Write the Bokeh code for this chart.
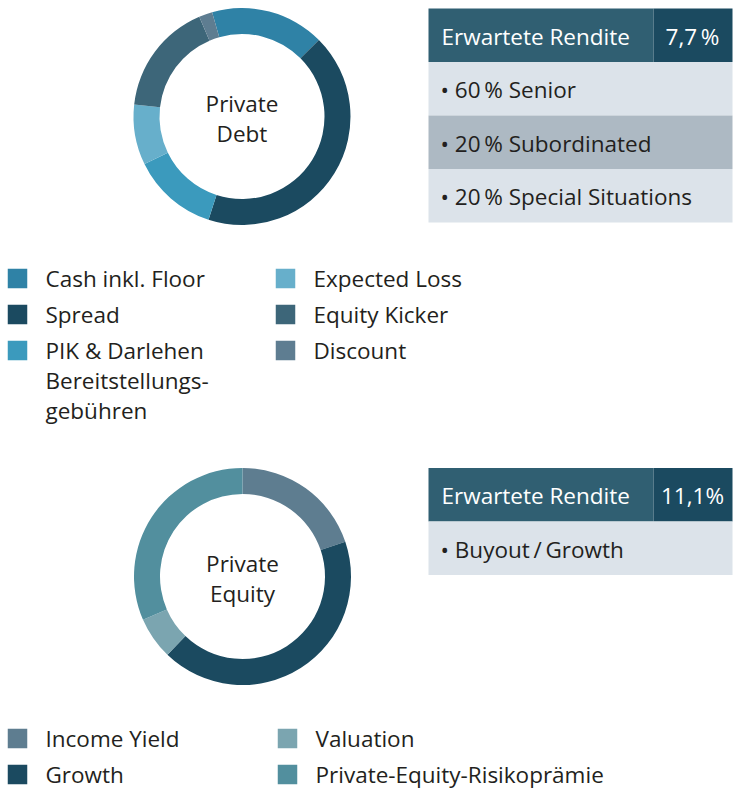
from bokeh.plotting import figure
from bokeh.models import Range1d
from bokeh.core.properties import value
from bokeh.embed import file_html
from bokeh.resources import INLINE
import numpy as np

# ---------------- data ----------------
debt_labels = ["Cash inkl. Floor", "Spread", "PIK & Darlehen\nBereitstellungs-\ngebühren",
               "Expected Loss", "Equity Kicker", "Discount"]
debt_shares = [17.0, 42.5, 12.8, 9.0, 16.8, 2.0]
debt_colors = ["#2f82a6", "#1b4a60", "#3b9abd", "#67afcb", "#3d6679", "#5e7d91"]

equity_labels = ["Income Yield", "Growth", "Valuation", "Private-Equity-Risikoprämie"]
equity_shares = [2.2, 4.7, 0.7, 3.5]
equity_colors = ["#5e7d90", "#1b4a60", "#7ba5b0", "#528f9e"]

debt_title = "Erwartete Rendite"
debt_return = "7,7\u2009%"
debt_rows = ["\u2022 60\u2009% Senior", "\u2022 20\u2009% Subordinated", "\u2022 20\u2009% Special Situations"]
debt_row_colors = ["#dce3ea", "#adb9c3", "#dce3ea"]

equity_title = "Erwartete Rendite"
equity_return = "11,1%"
equity_rows = ["\u2022 Buyout\u2009/\u2009Growth"]
equity_row_colors = ["#dce3ea"]

FONT = "Open Sans"
FS = 22.5
TXT = "#231f20"

W, H = 740, 790
p = figure(width=W, height=H, output_backend="svg", toolbar_location=None,
           x_range=Range1d(0, W), y_range=Range1d(0, H), min_border=0)
p.axis.visible = False
p.grid.visible = False
p.outline_line_color = None
p.background_fill_color = "white"
p.border_fill_color = "white"


def Y(v):  # image y (top-down) -> data y
    return H - v


def donut(cx, cy, shares, colors, start_deg, label):
    shares = np.asarray(shares, dtype=float)
    frac = shares / shares.sum()
    cum = np.concatenate([[0.0], np.cumsum(frac)])
    th0 = start_deg + 360 * cum[:-1]
    th1 = start_deg + 360 * cum[1:]
    sa = np.radians(90 - th0)
    ea = np.radians(90 - th1)
    p.annular_wedge(x=[cx] * len(shares), y=[Y(cy)] * len(shares), inner_radius=82.5,
                    outer_radius=108.5, start_angle=sa, end_angle=ea, direction="clock",
                    fill_color=colors, line_color=None)
    p.text(x=[cx], y=[Y(cy + 2)], text=[label], text_align="center", text_baseline="middle",
           text_font=value(FONT), text_font_size=f"{FS}px", text_color=TXT, text_line_height=0.95)


def table(top, title, ret, rows, row_colors):
    hh = 53.5
    p.quad(left=[428], right=[653], top=[Y(top)], bottom=[Y(top + hh)], fill_color="#305f72", line_color=None)
    p.quad(left=[653], right=[732], top=[Y(top)], bottom=[Y(top + hh)], fill_color="#1b4a60", line_color=None)
    p.text(x=[441], y=[Y(top + hh / 2 + 1)], text=[title], text_align="left", text_baseline="middle",
           text_font=value(FONT), text_font_size=f"{FS}px", text_color="white")
    p.text(x=[692], y=[Y(top + hh / 2 + 1)], text=[ret], text_align="center", text_baseline="middle",
           text_font=value(FONT), text_font_size=f"{FS}px", text_color="white")
    n = len(rows)
    tops = [top + hh + i * hh for i in range(n)]
    p.quad(left=[428] * n, right=[732] * n, top=[Y(t) for t in tops], bottom=[Y(t + hh) for t in tops],
           fill_color=row_colors, line_color=None)
    p.text(x=[440] * n, y=[Y(t + hh / 2 + 1) for t in tops], text=rows, text_align="left",
           text_baseline="middle", text_font=value(FONT), text_font_size=f"{FS}px", text_color=TXT)


def legend(labels, colors, row0, nrows, colw):
    xs_sq, xs_tx, ys = [], [], []
    for i in range(len(labels)):
        col, row = divmod(i, nrows)
        xs_sq.append(17 + col * colw)
        xs_tx.append(45 + col * colw)
        ys.append(row0 + row * 36)
    p.rect(x=xs_sq, y=[Y(v) for v in ys], width=19.5, height=19.5, fill_color=colors, line_color=None)
    p.text(x=xs_tx, y=[Y(v - 16) for v in ys], text=labels, text_align="left", text_baseline="top",
           text_font=value(FONT), text_font_size=f"{FS}px", text_color=TXT, text_line_height=0.98)


donut(241.5, 116, debt_shares, debt_colors, -16, "Private\nDebt")
donut(242, 576, equity_shares, equity_colors, 0, "Private\nEquity")
table(8, debt_title, debt_return, debt_rows, debt_row_colors)
table(467.5, equity_title, equity_return, equity_rows, equity_row_colors)
legend(debt_labels, debt_colors, 278, 3, 268)
legend(equity_labels, equity_colors, 738, 2, 270)

open("out.html", "w").write(file_html(p, INLINE))
